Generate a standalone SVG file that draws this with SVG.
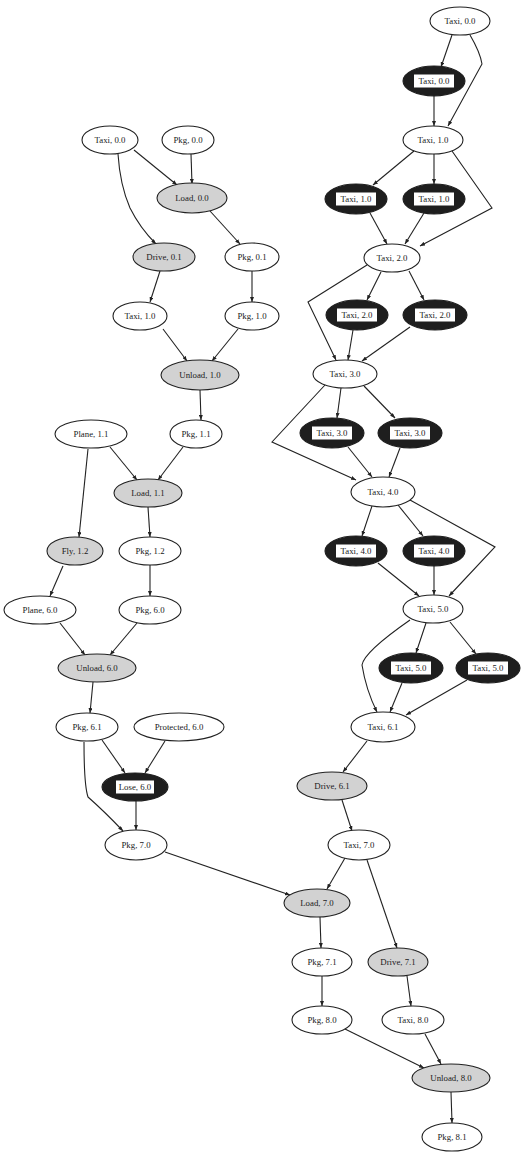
<svg xmlns="http://www.w3.org/2000/svg" width="522" height="1155" viewBox="0 0 522 1155">
<defs>
<style>
.n ellipse{fill:#fff;stroke:#222;stroke-width:1.1}
.g ellipse{fill:#d2d2d2;stroke:#222;stroke-width:1.1}
.d ellipse{fill:#1e1e1e;stroke:#1e1e1e;stroke-width:1.1}
.d rect{fill:#fff;stroke:none}
text{font-family:"Liberation Serif","Times New Roman",serif;font-size:8.8px;fill:#1a1a1a;text-anchor:middle;dominant-baseline:central}
#edges path{fill:none;stroke:#222;stroke-width:1.1;marker-end:url(#ah)}
</style>
<marker id="ah" markerUnits="userSpaceOnUse" markerWidth="5" markerHeight="4" refX="5" refY="2" orient="auto">
<path d="M0,0 L5,2 L0,4 z" fill="#222"/>
</marker>
</defs>
<rect width="522" height="1155" fill="#fff"/>
<g id="edges">
<path d="M452,35 L441,67"/>
<path d="M470,35 Q480,52 482,64 L448,126"/>
<path d="M434,96 L434,126"/>
<path d="M414,151 L373,185"/>
<path d="M434,154 L434,184"/>
<path d="M452,151 L492,208 L420,246"/>
<path d="M370,213 L387,244"/>
<path d="M424,213 L405,244"/>
<path d="M381,272 L367,300"/>
<path d="M409,271 L424,300"/>
<path d="M367,265 L308,302 L336,360"/>
<path d="M353,330 L348,360"/>
<path d="M410,327 L362,361"/>
<path d="M341,388 L337,418"/>
<path d="M364,386 L395,418"/>
<path d="M325,385 L272,442 L356,480"/>
<path d="M348,447 L372,477"/>
<path d="M400,448 L389,477"/>
<path d="M372,506 L362,536"/>
<path d="M398,505 L423,536"/>
<path d="M410,500 L495,547 L449,596"/>
<path d="M378,563 L419,596"/>
<path d="M434,566 L434,595"/>
<path d="M426,623 L416,653"/>
<path d="M450,622 L476,654"/>
<path d="M410,620 Q364,652 362,665 Q366,690 377,712"/>
<path d="M402,683 L390,712"/>
<path d="M467,680 L406,715"/>
<path d="M367,741 L343,772"/>
<path d="M342,800 L352,831"/>
<path d="M345,858 L327,889"/>
<path d="M367,860 L397,948"/>
<path d="M320,917 L321,948"/>
<path d="M407,976 L411,1006"/>
<path d="M322,976 L322,1006"/>
<path d="M345,1029 L424,1068"/>
<path d="M425,1034 L441,1064"/>
<path d="M451,1092 L452,1123"/>
<path d="M134,150 L177,185"/>
<path d="M191,154 L192,184"/>
<path d="M118,154 Q120,185 130,208 Q140,228 156,244"/>
<path d="M210,211 L240,244"/>
<path d="M160,271 L150,302"/>
<path d="M252,271 L252,302"/>
<path d="M163,329 L187,361"/>
<path d="M238,329 L212,361"/>
<path d="M200,390 L201,420"/>
<path d="M110,447 L137,480"/>
<path d="M183,447 L158,480"/>
<path d="M88,449 L79,537"/>
<path d="M148,507 L150,537"/>
<path d="M63,566 L50,596"/>
<path d="M150,565 L150,596"/>
<path d="M60,623 L85,655"/>
<path d="M137,623 L110,655"/>
<path d="M93,682 L90,713"/>
<path d="M102,740 L125,773"/>
<path d="M165,741 L145,773"/>
<path d="M136,801 L136,830"/>
<path d="M84,742 Q84,785 88,797 Q105,812 123,831"/>
<path d="M165,852 L290,895"/>
</g>
<g id="taxi00t" class="n"><ellipse cx="460" cy="21" rx="30" ry="14"/><text x="460" y="21">Taxi, 0.0</text></g>
<g id="taxi00d" class="d"><ellipse cx="434" cy="81" rx="31" ry="15"/><rect x="414" y="74.5" width="40" height="13"/><text x="434" y="81">Taxi, 0.0</text></g>
<g id="taxi10r" class="n"><ellipse cx="433" cy="140" rx="30" ry="14"/><text x="433" y="140">Taxi, 1.0</text></g>
<g id="taxi10da" class="d"><ellipse cx="356" cy="199" rx="31" ry="15"/><rect x="336" y="192.5" width="40" height="13"/><text x="356" y="199">Taxi, 1.0</text></g>
<g id="taxi10db" class="d"><ellipse cx="434" cy="199" rx="31" ry="15"/><rect x="414" y="192.5" width="40" height="13"/><text x="434" y="199">Taxi, 1.0</text></g>
<g id="taxi20" class="n"><ellipse cx="392" cy="258" rx="28" ry="14"/><text x="392" y="258">Taxi, 2.0</text></g>
<g id="taxi20da" class="d"><ellipse cx="357" cy="315" rx="31" ry="15"/><rect x="337" y="308.5" width="40" height="13"/><text x="357" y="315">Taxi, 2.0</text></g>
<g id="taxi20db" class="d"><ellipse cx="435" cy="315" rx="32" ry="15"/><rect x="415" y="308.5" width="40" height="13"/><text x="435" y="315">Taxi, 2.0</text></g>
<g id="taxi30" class="n"><ellipse cx="345" cy="374" rx="32" ry="14"/><text x="345" y="374">Taxi, 3.0</text></g>
<g id="taxi30da" class="d"><ellipse cx="332" cy="433" rx="32" ry="15"/><rect x="312" y="426.5" width="40" height="13"/><text x="332" y="433">Taxi, 3.0</text></g>
<g id="taxi30db" class="d"><ellipse cx="410" cy="433" rx="32" ry="15"/><rect x="390" y="426.5" width="40" height="13"/><text x="410" y="433">Taxi, 3.0</text></g>
<g id="taxi40" class="n"><ellipse cx="383" cy="492" rx="32" ry="15"/><text x="383" y="492">Taxi, 4.0</text></g>
<g id="taxi40da" class="d"><ellipse cx="356" cy="551" rx="31" ry="15"/><rect x="336" y="544.5" width="40" height="13"/><text x="356" y="551">Taxi, 4.0</text></g>
<g id="taxi40db" class="d"><ellipse cx="434" cy="551" rx="31" ry="15"/><rect x="414" y="544.5" width="40" height="13"/><text x="434" y="551">Taxi, 4.0</text></g>
<g id="taxi50" class="n"><ellipse cx="433" cy="609" rx="30" ry="14"/><text x="433" y="609">Taxi, 5.0</text></g>
<g id="taxi50da" class="d"><ellipse cx="411" cy="668" rx="32" ry="15"/><rect x="391" y="661.5" width="40" height="13"/><text x="411" y="668">Taxi, 5.0</text></g>
<g id="taxi50db" class="d"><ellipse cx="488" cy="668" rx="32" ry="15"/><rect x="468" y="661.5" width="40" height="13"/><text x="488" y="668">Taxi, 5.0</text></g>
<g id="taxi61" class="n"><ellipse cx="383" cy="727" rx="32" ry="15"/><text x="383" y="727">Taxi, 6.1</text></g>
<g id="drive61" class="g"><ellipse cx="332" cy="786" rx="35" ry="14"/><text x="332" y="786">Drive, 6.1</text></g>
<g id="taxi70" class="n"><ellipse cx="359" cy="845" rx="31" ry="15"/><text x="359" y="845">Taxi, 7.0</text></g>
<g id="load70" class="g"><ellipse cx="317" cy="903" rx="33" ry="14"/><text x="317" y="903">Load, 7.0</text></g>
<g id="pkg71" class="n"><ellipse cx="322" cy="962" rx="30" ry="14"/><text x="322" y="962">Pkg, 7.1</text></g>
<g id="drive71" class="g"><ellipse cx="398" cy="962" rx="30" ry="14"/><text x="398" y="962">Drive, 7.1</text></g>
<g id="pkg80" class="n"><ellipse cx="322" cy="1020" rx="30" ry="14"/><text x="322" y="1020">Pkg, 8.0</text></g>
<g id="taxi80" class="n"><ellipse cx="413" cy="1020" rx="31" ry="14"/><text x="413" y="1020">Taxi, 8.0</text></g>
<g id="unload80" class="g"><ellipse cx="451" cy="1078" rx="39" ry="14"/><text x="451" y="1078">Unload, 8.0</text></g>
<g id="pkg81" class="n"><ellipse cx="452" cy="1137" rx="30" ry="14"/><text x="452" y="1137">Pkg, 8.1</text></g>
<g id="taxi00l" class="n"><ellipse cx="110" cy="140" rx="28" ry="14"/><text x="110" y="140">Taxi, 0.0</text></g>
<g id="pkg00" class="n"><ellipse cx="188" cy="140" rx="26" ry="14"/><text x="188" y="140">Pkg, 0.0</text></g>
<g id="load00" class="g"><ellipse cx="192" cy="198" rx="35" ry="15"/><text x="192" y="198">Load, 0.0</text></g>
<g id="drive01" class="g"><ellipse cx="164" cy="257" rx="31" ry="14"/><text x="164" y="257">Drive, 0.1</text></g>
<g id="pkg01" class="n"><ellipse cx="252" cy="257" rx="27" ry="14"/><text x="252" y="257">Pkg, 0.1</text></g>
<g id="taxi10l" class="n"><ellipse cx="140" cy="316" rx="27" ry="14"/><text x="140" y="316">Taxi, 1.0</text></g>
<g id="pkg10" class="n"><ellipse cx="252" cy="316" rx="27" ry="14"/><text x="252" y="316">Pkg, 1.0</text></g>
<g id="unload10" class="g"><ellipse cx="200" cy="375" rx="39" ry="15"/><text x="200" y="375">Unload, 1.0</text></g>
<g id="plane11" class="n"><ellipse cx="91" cy="434" rx="36" ry="14"/><text x="91" y="434">Plane, 1.1</text></g>
<g id="pkg11" class="n"><ellipse cx="196" cy="434" rx="26" ry="14"/><text x="196" y="434">Pkg, 1.1</text></g>
<g id="load11" class="g"><ellipse cx="148" cy="493" rx="34" ry="14"/><text x="148" y="493">Load, 1.1</text></g>
<g id="fly12" class="g"><ellipse cx="75" cy="551" rx="28" ry="14"/><text x="75" y="551">Fly, 1.2</text></g>
<g id="pkg12" class="n"><ellipse cx="150" cy="551" rx="31" ry="14"/><text x="150" y="551">Pkg, 1.2</text></g>
<g id="plane60" class="n"><ellipse cx="40" cy="610" rx="36" ry="14"/><text x="40" y="610">Plane, 6.0</text></g>
<g id="pkg60" class="n"><ellipse cx="150" cy="610" rx="31" ry="14"/><text x="150" y="610">Pkg, 6.0</text></g>
<g id="unload60" class="g"><ellipse cx="97" cy="668" rx="39" ry="14"/><text x="97" y="668">Unload, 6.0</text></g>
<g id="pkg61" class="n"><ellipse cx="87" cy="727" rx="31" ry="14"/><text x="87" y="727">Pkg, 6.1</text></g>
<g id="prot60" class="n"><ellipse cx="179" cy="727" rx="45" ry="14"/><text x="179" y="727">Protected, 6.0</text></g>
<g id="lose60" class="d"><ellipse cx="135" cy="787" rx="33" ry="14"/><rect x="116" y="780.5" width="38" height="13"/><text x="135" y="787">Lose, 6.0</text></g>
<g id="pkg70" class="n"><ellipse cx="136" cy="845" rx="31" ry="15"/><text x="136" y="845">Pkg, 7.0</text></g>
</svg>
